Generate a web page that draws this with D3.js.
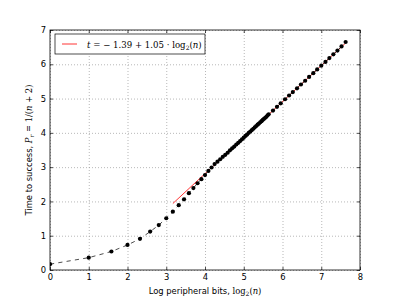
<!DOCTYPE html>
<html>
<head>
<meta charset="utf-8">
<script src="https://cdn.jsdelivr.net/npm/d3@7"></script>
<style>
  body { margin: 0; background: #fff; }
  text { font-family: "DejaVu Sans", sans-serif; }
  .math { font-family: "DejaVu Serif", serif; }
</style>
</head>
<body>
<div id="wrapper"></div>
<script>
// peripheral bits n and measured time to success t
var nBits = [1, 2, 3, 4, 5, 6, 7, 8, 9, 10, 11, 12, 13, 14, 15, 16, 17, 18, 19,
    20, 21, 22, 23, 24, 25, 26, 27, 28, 29, 30, 31, 32, 33, 34, 35, 36, 37, 38, 39,
    40, 41, 42, 43, 44, 45, 46, 47, 48, 49, 50,
    54, 58, 62, 67, 72, 77, 83, 89, 96, 103, 111, 119, 128, 138, 148, 159, 171, 184, 198];
var times = [0.17, 0.36, 0.54, 0.73, 0.91, 1.12, 1.31, 1.51, 1.70, 1.89, 2.06, 2.24, 2.39, 2.53, 2.65, 2.77, 2.89, 2.99, 3.09,
    3.16, 3.23, 3.30, 3.36, 3.42, 3.49, 3.55, 3.60, 3.66, 3.71, 3.76, 3.81, 3.86, 3.91, 3.95, 4.00, 4.04, 4.08, 4.12, 4.16,
    4.20, 4.24, 4.27, 4.31, 4.34, 4.38, 4.41, 4.44, 4.47, 4.51, 4.54,
    4.65, 4.76, 4.86, 4.98, 5.09, 5.19, 5.30, 5.41, 5.52, 5.63, 5.74, 5.85, 5.96, 6.07, 6.18, 6.29, 6.40, 6.52, 6.65];

// fit t = a + b*log2(n), drawn over this n range
var fitA = -1.39;
var fitB = 1.05;
var fitRange = [9, 198];

var xTicks = [0, 1, 2, 3, 4, 5, 6, 7, 8];
var yTicks = [0, 1, 2, 3, 4, 5, 6, 7];

function draw() {
    var width = 400;
    var height = 300;
    var pLeft = 50, pRight = 360, pTop = 30, pBottom = 270;

    var svg = d3.select("#wrapper").append("svg")
        .attr("width", width)
        .attr("height", height)

    var xScaler = d3.scaleLinear().domain([0, 8]).range([pLeft, pRight]);
    var yScaler = d3.scaleLinear().domain([0, 7]).range([pBottom, pTop]);

    svg.append("defs").append("clipPath").attr("id", "plot")
        .append("rect")
        .attr("x", pLeft).attr("y", pTop)
        .attr("width", pRight - pLeft).attr("height", pBottom - pTop)

    // grid
    svg.append("g")
        .attr("transform", "translate(0," + pBottom + ")")
        .call(d3.axisBottom(xScaler).tickValues(xTicks).tickSize(-(pBottom - pTop)).tickFormat(""))
        .call(g => g.select(".domain").remove())
        .selectAll("line").attr("stroke", "#999").attr("stroke-width", 0.7).attr("stroke-dasharray", "1,2")
    svg.append("g")
        .attr("transform", "translate(" + pLeft + ",0)")
        .call(d3.axisLeft(yScaler).tickValues(yTicks).tickSize(-(pRight - pLeft)).tickFormat(""))
        .call(g => g.select(".domain").remove())
        .selectAll("line").attr("stroke", "#999").attr("stroke-width", 0.7).attr("stroke-dasharray", "1,2")

    var plot = svg.append("g").attr("clip-path", "url(#plot)")

    // fit line
    plot.append("line")
        .attr("x1", xScaler(Math.log2(fitRange[0])))
        .attr("y1", yScaler(fitA + fitB * Math.log2(fitRange[0])))
        .attr("x2", xScaler(Math.log2(fitRange[1])))
        .attr("y2", yScaler(fitA + fitB * Math.log2(fitRange[1])))
        .attr("stroke", "red")
        .attr("stroke-width", 0.8)

    var line = d3.line()
        .x((d, i) => xScaler(Math.log2(nBits[i])))
        .y(d => yScaler(d))
    plot.append("path")
        .attr("d", line(times))
        .attr("fill", "none")
        .attr("stroke", "black")
        .attr("stroke-width", 0.7)
        .attr("stroke-dasharray", "4.2,4.2")

    plot.selectAll("circle")
        .data(times)
        .enter().append("circle")
        .attr("cx", (d, i) => xScaler(Math.log2(nBits[i])))
        .attr("cy", d => yScaler(d))
        .attr("r", 2.1)
        .attr("fill", "black")

    // axes with inward ticks on all sides
    function styleAxis(g) {
        g.select(".domain").remove()
        g.selectAll("line").attr("stroke", "black").attr("stroke-width", 0.7)
        g.selectAll("text").style("font-size", "8.4px").attr("fill", "black")
            .style("font-family", "'DejaVu Sans', sans-serif")
    }
    svg.append("g")
        .attr("transform", "translate(0," + pBottom + ")")
        .call(d3.axisBottom(xScaler).tickValues(xTicks).tickSize(-3).tickPadding(4).tickFormat(d3.format("d")))
        .call(styleAxis)
    svg.append("g")
        .attr("transform", "translate(0," + pTop + ")")
        .call(d3.axisTop(xScaler).tickValues(xTicks).tickSize(-3).tickFormat(""))
        .call(styleAxis)
    svg.append("g")
        .attr("transform", "translate(" + pLeft + ",0)")
        .call(d3.axisLeft(yScaler).tickValues(yTicks).tickSize(-3).tickPadding(4).tickFormat(d3.format("d")))
        .call(styleAxis)
    svg.append("g")
        .attr("transform", "translate(" + pRight + ",0)")
        .call(d3.axisRight(yScaler).tickValues(yTicks).tickSize(-3).tickFormat(""))
        .call(styleAxis)

    svg.append("rect")
        .attr("x", pLeft).attr("y", pTop)
        .attr("width", pRight - pLeft).attr("height", pBottom - pTop)
        .attr("fill", "none")
        .attr("stroke", "black")
        .attr("stroke-width", 0.8)

    // x label
    var xl = svg.append("text")
        .attr("x", (pLeft + pRight) / 2)
        .attr("y", 294)
        .attr("text-anchor", "middle")
        .style("font-size", "8.4px")
    xl.append("tspan").text("Log peripheral bits, ")
    xl.append("tspan").attr("class", "math").text("log")
    xl.append("tspan").attr("class", "math").attr("dy", 2).style("font-size", "6px").text("2")
    xl.append("tspan").attr("class", "math").attr("dy", -2).text("(")
    xl.append("tspan").attr("class", "math").style("font-style", "italic").text("n")
    xl.append("tspan").attr("class", "math").text(")")

    // y label
    var yl = svg.append("text")
        .attr("transform", "translate(32," + (pTop + pBottom) / 2 + ") rotate(-90)")
        .attr("text-anchor", "middle")
        .style("font-size", "8.4px")
    yl.append("tspan").text("Time to success, ")
    yl.append("tspan").attr("class", "math").style("font-style", "italic").text("P")
    yl.append("tspan").attr("class", "math").style("font-style", "italic").attr("dy", 2).style("font-size", "6px").text("r")
    yl.append("tspan").attr("class", "math").attr("dy", -2).text(" = 1/(")
    yl.append("tspan").attr("class", "math").style("font-style", "italic").text("n")
    yl.append("tspan").attr("class", "math").text(" + 2)")

    // legend
    svg.append("rect")
        .attr("x", 55).attr("y", 34)
        .attr("width", 150).attr("height", 20)
        .attr("fill", "white")
        .attr("stroke", "black")
        .attr("stroke-width", 0.7)
    svg.append("line")
        .attr("x1", 62).attr("x2", 77)
        .attr("y1", 44).attr("y2", 44)
        .attr("stroke", "red")
        .attr("stroke-width", 0.8)
    var lt = svg.append("text")
        .attr("class", "math")
        .attr("x", 87)
        .attr("y", 47.5)
        .style("font-size", "8.6px")
    lt.append("tspan").style("font-style", "italic").text("t")
    lt.append("tspan").text(" = \u2212 1.39 + 1.05 \u00b7 log")
    lt.append("tspan").attr("dy", 2).style("font-size", "6px").text("2")
    lt.append("tspan").attr("dy", -2).text("(")
    lt.append("tspan").style("font-style", "italic").text("n")
    lt.append("tspan").text(")")
}
draw()
</script>
</body>
</html>
